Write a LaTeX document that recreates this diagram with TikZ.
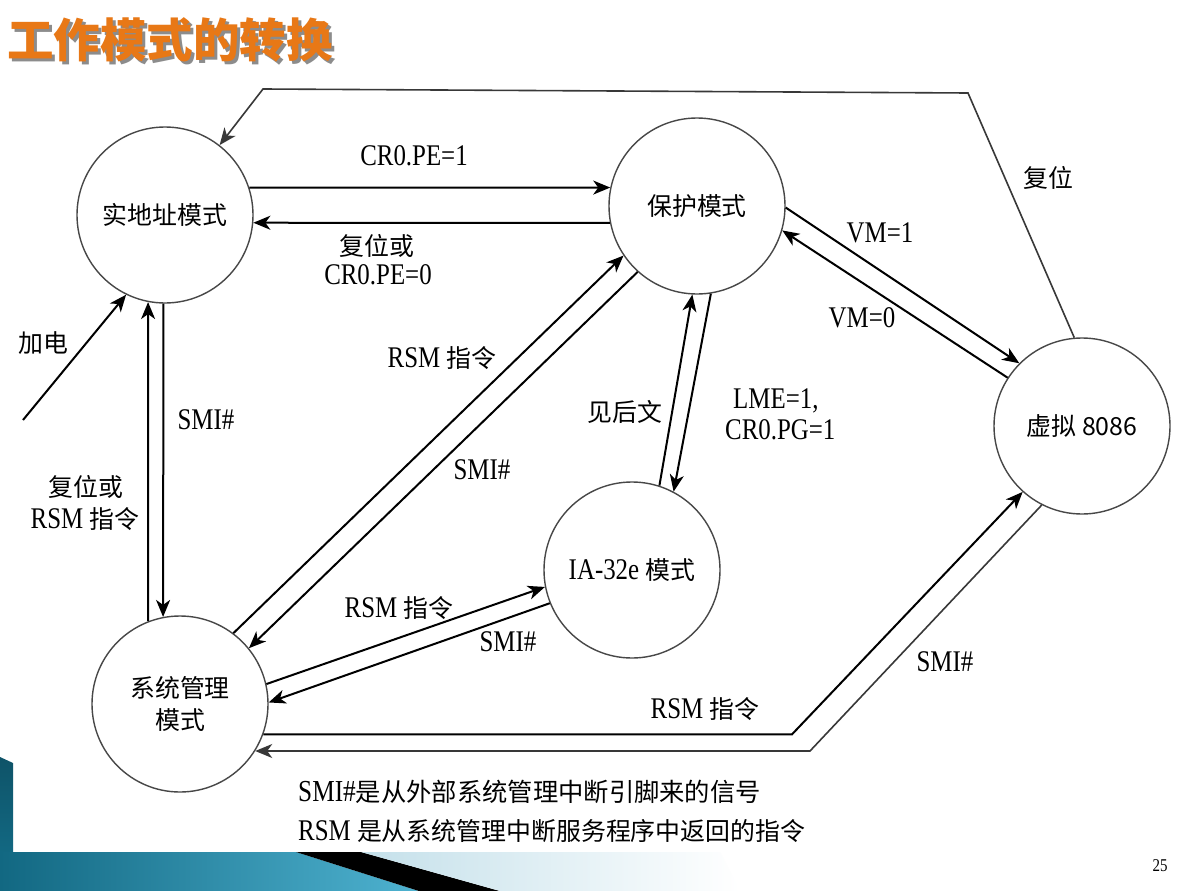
\documentclass[tikz,border=0pt]{standalone}
\usepackage{fontspec}
\setmainfont{Liberation Serif}[FakeStretch=0.83]
\newfontfamily\cjk{Noto Sans CJK SC}[Scale=0.83]
\usetikzlibrary{arrows.meta}
\definecolor{titleorange}{RGB}{232,120,22}
\definecolor{tealdark}{RGB}{18,104,130}
\definecolor{teallight}{RGB}{78,178,208}
\definecolor{tealpale}{RGB}{196,224,234}
\newcommand{\zh}[1]{{\cjk #1}}
\newcommand{\titletext}{工作模式的转换}

\begin{document}
\begin{tikzpicture}[x=1pt,y=-1pt,
  state/.style={circle, draw=black!72, line width=1.4pt, minimum size=176pt,
    inner sep=0pt, align=center, font=\fontsize{30}{36}\selectfont},
  lbl/.style={inner sep=0pt, align=center, font=\fontsize{30}{36}\selectfont},
  note/.style={inner sep=0pt, anchor=west},
  tip/.style={-{Stealth[length=17pt,width=14pt,inset=5pt]}},
  flow/.style={tip, line width=2pt},
  faint/.style={tip, line width=1.6pt, draw=black!78},
]
\useasboundingbox (0,0) rectangle (1194,891);
\fill[white] (0,0) rectangle (1194,891);

% slide decoration along the lower left corner
\shade[top color=tealdark!80!black, bottom color=tealdark] (0,757) -- (13,763) -- (13,852) -- (0,852) -- cycle;
\shade[left color=tealdark, right color=teallight] (0,852) -- (296,852) -- (419,891) -- (0,891) -- cycle;
\fill[black] (296,852) -- (361,852) -- (500,891) -- (419,891) -- cycle;
\shade[left color=tealpale, right color=white] (361,852) -- (720,852) -- (740,891) -- (500,891) -- cycle;

% title, its drop shadow set in the same box
\node[anchor=west, inner sep=0pt, font=\cjk\bfseries\fontsize{56}{60}\selectfont] (title) at (7,41)
  {\makebox[0pt][l]{\hspace{3pt}\raisebox{-3pt}{\textcolor{black!45}{\titletext}}}\textcolor{titleorange}{\titletext}};

% operating modes
\node[state] (real) at (165,215) {\zh{实地址模式}};
\node[state] (prot) at (697,206) {\zh{保护模式}};
\node[state] (v86)  at (1082,426) {\zh{虚拟 8086}};
\node[state] (ia)   at (632,570) {IA-32e \zh{模式}};
\node[state] (smm)  at (180,704) {\zh{系统管理}\\[-4pt]\zh{模式}};

% bend points of the long connectors
\coordinate (pwr) at (23,420);
\coordinate (r1) at (968,93);
\coordinate (r2) at (263,89);
\coordinate (b1) at (792,735);
\coordinate (b2) at (810,751);

% transitions
\draw[flow] (real.18) -- (prot.168);
\draw[flow] (prot.191) -- (real.355);
\draw[flow] (pwr) -- (real.244);
\draw[faint] (v86.95) -- (r1) -- (r2) -- (real.52);
\draw[flow] (smm.111) -- (real.259);
\draw[flow] (real.269) -- (smm.101);
\draw[flow] (smm.53) -- (prot.214);
\draw[flow] (prot.228) -- (smm.39);
\draw[flow] (ia.72) -- (prot.267);
\draw[flow] (prot.279) -- (ia.62);
\draw[flow] (prot.359) -- (v86.135);
\draw[flow] (v86.147) -- (prot.344);
\draw[flow] (smm.13) -- (ia.191);
\draw[flow] (ia.202) -- (smm.1);
\draw[flow] (smm.340) -- (smm.340 -| b1) -- (v86.228);
\draw[faint] (v86.243) -- (smm.328 -| b2) -- (smm.328);

% transition labels
\node[lbl] (lpe1) at (414,156) {CR0.PE=1};
\node[lbl] (lrs1) at (377,246) {\zh{复位或}};
\node[lbl] (lpe0) at (378,275) {CR0.PE=0};
\node[lbl] (lrst) at (1048,178) {\zh{复位}};
\node[lbl] (lvm1) at (880,233) {VM=1};
\node[lbl] (lvm0) at (862,318) {VM=0};
\node[lbl] (lpow) at (43,343) {\zh{加电}};
\node[lbl] (lsm1) at (206,420) {SMI\#};
\node[lbl] (lrs2) at (86,487) {\zh{复位或}};
\node[lbl] (lrm1) at (85,519) {RSM \zh{指令}};
\node[lbl] (lrm2) at (442,358) {RSM \zh{指令}};
\node[lbl] (lsm2) at (482,470) {SMI\#};
\node[lbl] (lsee) at (625,412) {\zh{见后文}};
\node[lbl, anchor=west] (llme) at (733,401) {LME=1,};
\node[lbl, anchor=west] (lpg)  at (725,430) {CR0.PG=1};
\node[lbl] (lrm3) at (399,608) {RSM \zh{指令}};
\node[lbl] (lsm3) at (508,642) {SMI\#};
\node[lbl] (lsm4) at (945,662) {SMI\#};
\node[lbl] (lrm4) at (705,709) {RSM \zh{指令}};

% notes under the diagram
\node[note, font=\fontsize{30.5}{36}\selectfont] (n1) at (298,792) {SMI\#\zh{是从外部系统管理中断引脚来的信号}};
\node[note, font=\fontsize{30}{36}\selectfont] (n2) at (298,831) {RSM \zh{是从系统管理中断服务程序中返回的指令}};

% page number
\node[inner sep=0pt, font=\fontsize{18}{20}\selectfont] (page) at (1160,866) {25};
\end{tikzpicture}
\end{document}
